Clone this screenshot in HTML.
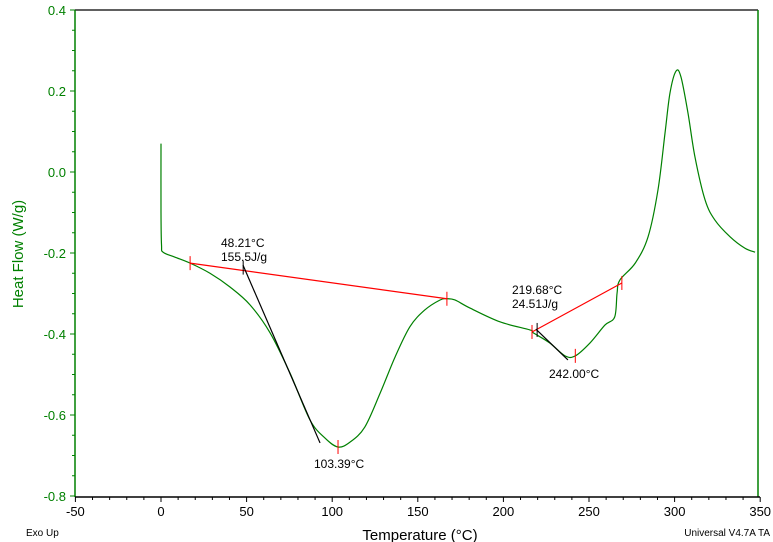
<!DOCTYPE html>
<html><head><meta charset="utf-8"><style>
html,body{margin:0;padding:0;background:#fff;}
svg{display:block;font-family:"Liberation Sans",Arial,sans-serif;}
</style></head><body>
<svg id="c" width="773" height="542"></svg>
<script>
const xTicks=[-50,0,50,100,150,200,250,300,350];
const yTicks=[0.4,0.2,0.0,-0.2,-0.4,-0.6,-0.8];
const temps=[0,0,0.3,1.2,8,17,28.6,40.3,52,63.7,75.4,87,95.8,103.4,110.4,119,128,136.7,145.4,154,163,167,171.7,180.5,198,215.5,217.4,227,236,242,250.6,259.3,265,266.4,268,277,284.5,290.3,294.4,297.3,300.8,303.7,307.8,311.9,317.8,323.6,332.4,341,347];
const flows=[0.07,-0.1,-0.18,-0.198,-0.21,-0.225,-0.25,-0.284,-0.328,-0.397,-0.497,-0.612,-0.657,-0.679,-0.667,-0.63,-0.546,-0.457,-0.382,-0.341,-0.316,-0.313,-0.316,-0.336,-0.370,-0.390,-0.397,-0.422,-0.454,-0.454,-0.422,-0.378,-0.358,-0.299,-0.267,-0.225,-0.160,-0.044,0.096,0.195,0.249,0.235,0.146,0.037,-0.069,-0.119,-0.160,-0.188,-0.198];
const baselines=[[17,-0.225,167,-0.313],[216.7,-0.395,269.2,-0.274]];
const tangents=[[47.9,-0.23,92.9,-0.669],[219,-0.388,237.7,-0.464]];
const markers=[[17,-0.225,'red'],[167,-0.313,'red'],[48,-0.236,'black'],[103.4,-0.679,'red'],[216.7,-0.395,'red'],[219.7,-0.39,'black'],[269.2,-0.274,'red'],[242,-0.454,'red']];
const ns='http://www.w3.org/2000/svg';
const svg=document.getElementById('c');
const X=t=>161+(t)*1.712;
const Y=v=>172-v*405;
function el(tag,a,txt){const e=document.createElementNS(ns,tag);for(const k in a)e.setAttribute(k,a[k]);if(txt!==undefined)e.textContent=txt;svg.appendChild(e);return e;}
let e;
e=el('line',{x1:75,y1:10,x2:758,y2:10,stroke:'#000','stroke-width':1.2});


e=el('line',{x1:75,y1:10,x2:75,y2:497,stroke:'#008000','stroke-width':1.5});


e=el('line',{x1:758,y1:10,x2:758,y2:497,stroke:'#008000','stroke-width':1.5});


e=el('line',{x1:75,y1:497,x2:760,y2:497,stroke:'#000','stroke-width':1.5});


for(let t=-50;t<=350;t+=10){const maj=t%50===0;el('line',{x1:X(t),y1:497,x2:X(t),y2:maj?502:500,stroke:'#000'});}
xTicks.forEach(t=>{e=el('text',{x:X(t),y:516,'text-anchor':'middle','font-size':13},t);

});
for(let v=-0.8;v<=0.401;v+=0.05){const maj=Math.abs(Math.round(v*100)%20)===0;el('line',{x1:maj?70:72,y1:Y(v),x2:75,y2:Y(v),stroke:'#008000'});}
yTicks.forEach(v=>{e=el('text',{x:66,y:Y(v)+5,'text-anchor':'end','font-size':13,fill:'#008000'},v.toFixed(1));

});
const pts=temps.map((t,i)=>[X(t),Y(flows[i])]);
let d='M'+pts[0][0]+','+pts[0][1];
for(let i=0;i<pts.length-1;i++){const p0=pts[Math.max(0,i-1)],p1=pts[i],p2=pts[i+1],p3=pts[Math.min(pts.length-1,i+2)];
const c1=[p1[0]+(p2[0]-p0[0])/6,p1[1]+(p2[1]-p0[1])/6],c2=[p2[0]-(p3[0]-p1[0])/6,p2[1]-(p3[1]-p1[1])/6];
d+=' C'+c1+' '+c2+' '+p2;}
e=el('path',{d:d,fill:'none',stroke:'#008000','stroke-width':1.2});


baselines.forEach(b=>{e=el('line',{x1:X(b[0]),y1:Y(b[1]),x2:X(b[2]),y2:Y(b[3]),stroke:'red','stroke-width':1.2});

});
tangents.forEach(b=>{e=el('line',{x1:X(b[0]),y1:Y(b[1]),x2:X(b[2]),y2:Y(b[3]),stroke:'#000','stroke-width':1.2});

});
markers.forEach(m=>{el('line',{x1:X(m[0]),y1:Y(m[1])-7,x2:X(m[0]),y2:Y(m[1])+7,stroke:m[2]});});
const labels=[[221,247,'48.21°C'],[221,261,'155.5J/g'],[314,468,'103.39°C'],[512,294,'219.68°C'],[512,308,'24.51J/g'],[549,378,'242.00°C']];
labels.forEach(l=>{e=el('text',{x:l[0],y:l[1],'font-size':12},l[2]);

});
e=el('text',{x:23,y:254,'font-size':15,fill:'#008000','text-anchor':'middle',transform:'rotate(-90 23 254)'},'Heat Flow (W/g)');


e=el('text',{x:420,y:540,'font-size':15,'text-anchor':'middle'},'Temperature (°C)');


e=el('text',{x:26,y:536,'font-size':10},'Exo Up');


e=el('text',{x:770,y:536,'font-size':10,'text-anchor':'end'},'Universal V4.7A TA');


</script>
</body></html>
